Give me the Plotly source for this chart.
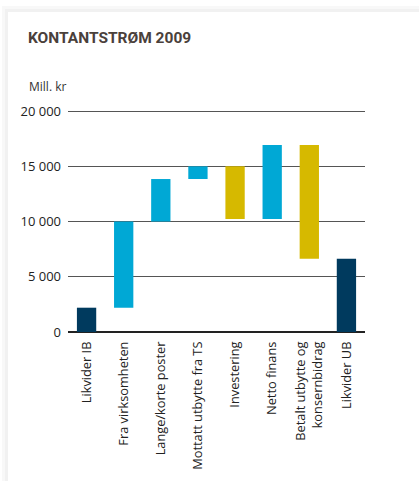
import plotly.graph_objects as go

categories = [
    "Likvider IB",
    "Fra virksomheten",
    "Lange/korte poster",
    "Mottatt utbytte fra TS",
    "Investering",
    "Netto finans",
    "Betalt utbytte og<br>konsernbidrag",
    "Likvider UB",
]
measures = ["absolute", "relative", "relative", "relative", "relative", "relative", "relative", "total"]
values = [2200, 7800, 3850, 1150, -4760, 6690, -10300, 0]

tick_vals = [0, 5000, 10000, 15000, 20000]
tick_text = ["0", "5 000", "10 000", "15 000", "20 000"]

NAVY = "#003a5e"
CYAN = "#00a8d5"
YELLOW = "#d6b900"

fig = go.Figure(
    go.Waterfall(
        x=categories,
        y=values,
        measure=measures,
        increasing=dict(marker=dict(color=CYAN)),
        decreasing=dict(marker=dict(color=YELLOW)),
        totals=dict(marker=dict(color=NAVY)),
        connector=dict(visible=False),
        textinfo="none",
        hoverinfo="skip",
    )
)

W, H = 419, 481
L, R, T, B = 68, 54, 110, 149
pw = W - L - R
ph = H - T - B


def px_x(px):
    return (px - L) / pw


def px_y(py):
    return (H - B - py) / ph


shapes = [
    dict(type="rect", xref="paper", yref="paper",
         x0=px_x(2), x1=px_x(W + 20), y0=px_y(6), y1=px_y(H + 20),
         fillcolor="#f8f8f8", line=dict(width=0), layer="below"),
    dict(type="rect", xref="paper", yref="paper",
         x0=px_x(5), x1=px_x(W + 20), y0=px_y(9), y1=px_y(H + 20),
         fillcolor="#f1f1f1", line=dict(width=0), layer="below"),
    dict(type="rect", xref="paper", yref="paper",
         x0=px_x(8), x1=px_x(W + 20), y0=px_y(12), y1=px_y(H + 20),
         fillcolor="#ffffff", line=dict(width=0), layer="below"),
]

fig.update_layout(
    width=W,
    height=H,
    margin=dict(l=L, r=R, t=T, b=B, pad=0),
    paper_bgcolor="#ffffff",
    plot_bgcolor="rgba(0,0,0,0)",
    showlegend=False,
    waterfallgap=0.48,
    font=dict(family="Open Sans", color="#222222"),
    title=dict(
        text="<b>KONTANTSTRØM 2009</b>",
        xref="container", yref="container",
        x=28 / W, y=1 - 38 / H,
        xanchor="left", yanchor="middle",
        font=dict(family="Roboto", size=15.5, color="#4a403b"),
    ),
    annotations=[
        dict(text="Mill. kr", xref="paper", yref="paper",
             x=px_x(27), y=px_y(87), xanchor="left", yanchor="middle",
             showarrow=False, font=dict(family="Open Sans", size=12, color="#333333")),
    ],
    shapes=shapes,
    xaxis=dict(
        tickangle=-90,
        tickfont=dict(size=12.8, color="#222222"),
        showgrid=False,
        showline=False,
        ticks="",
        ticklabelstandoff=6,
        fixedrange=True,
    ),
    yaxis=dict(
        range=[0, 20100],
        tickvals=tick_vals,
        ticktext=tick_text,
        tickfont=dict(size=13, color="#222222"),
        showgrid=True,
        gridcolor="#555555",
        gridwidth=1.2,
        zeroline=True,
        zerolinecolor="#222222",
        zerolinewidth=1.5,
        ticks="",
        ticklabelstandoff=6,
        fixedrange=True,
    ),
)

fig.write_html(
    "out.html",
    config={"displayModeBar": False, "staticPlot": True},
    post_script="document.body.style.margin='0';document.body.style.padding='0';",
)
